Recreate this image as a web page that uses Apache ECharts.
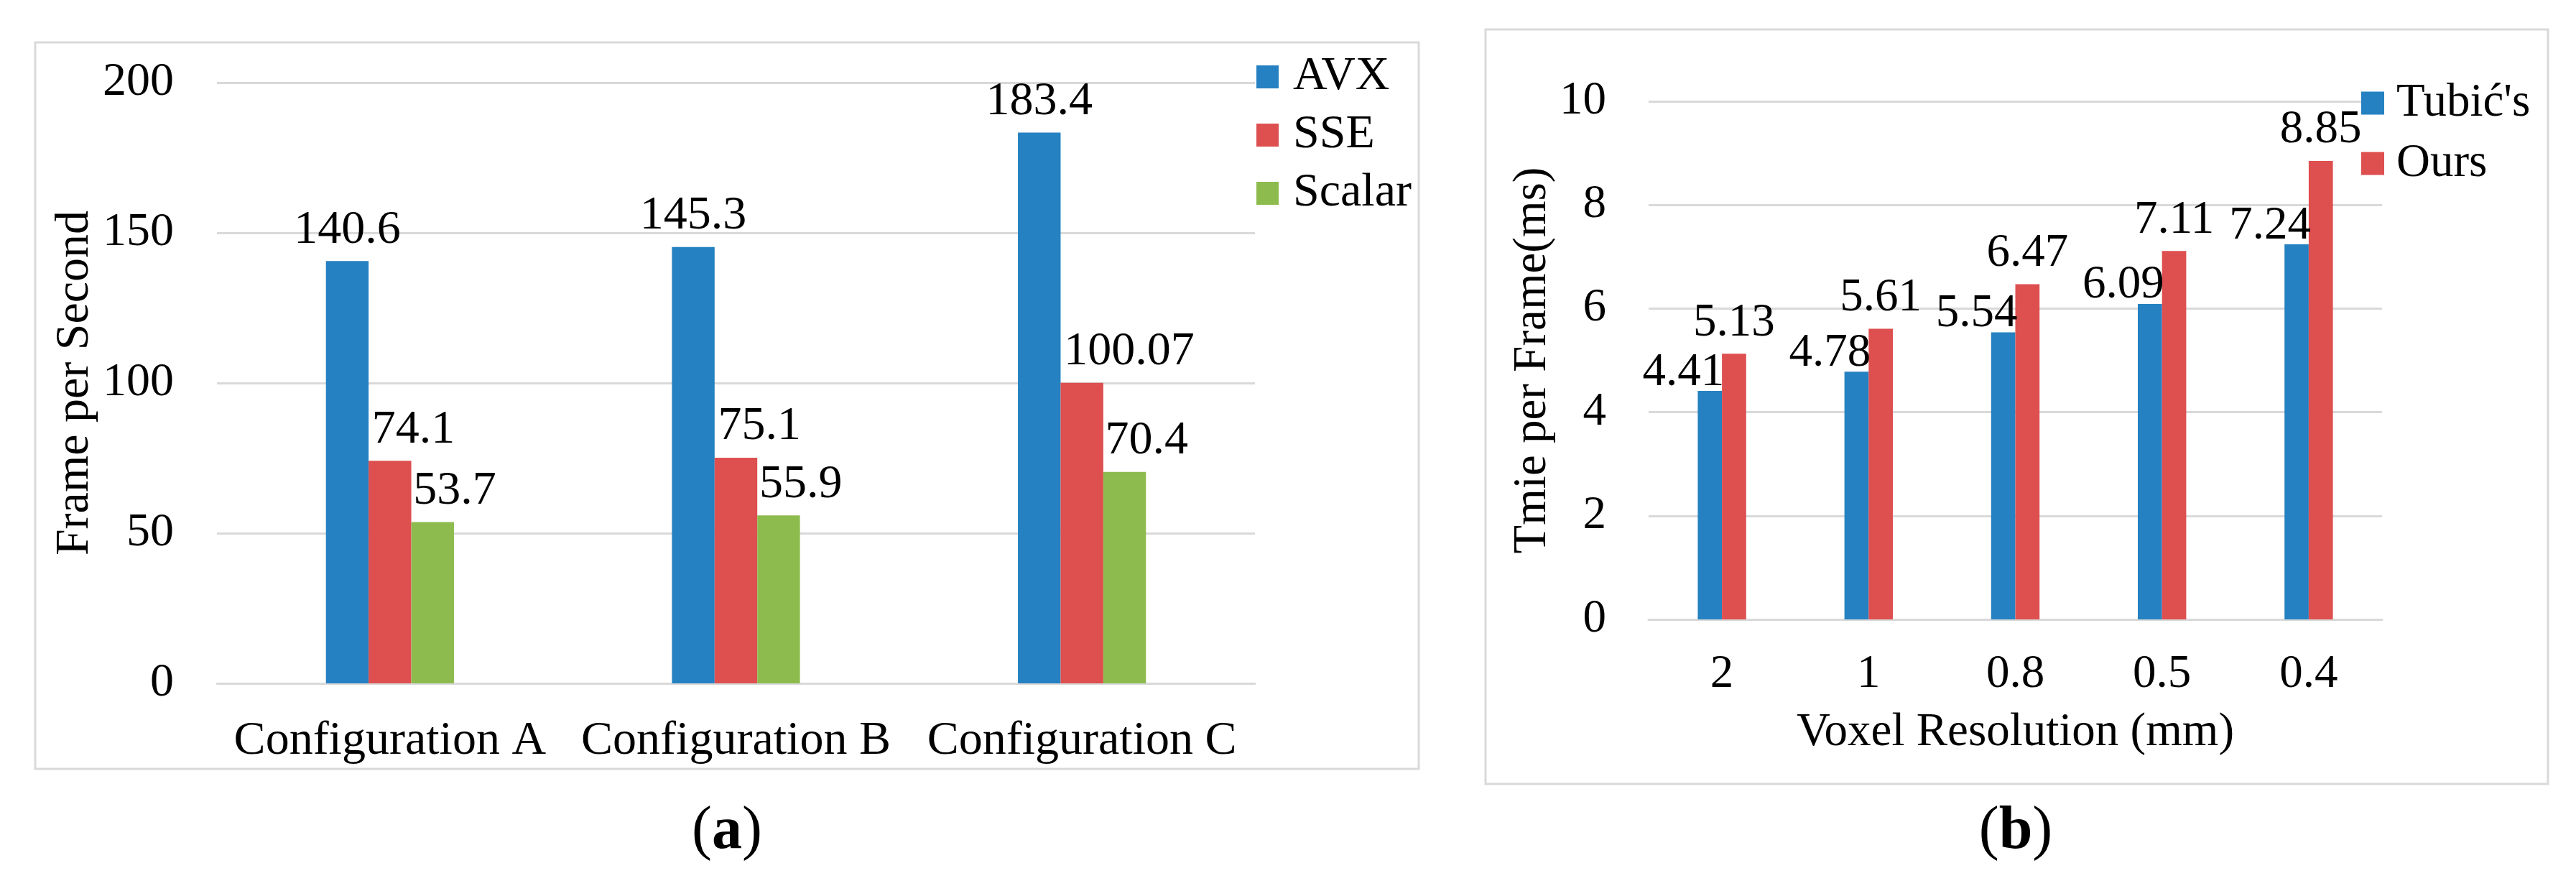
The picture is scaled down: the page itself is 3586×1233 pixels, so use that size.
<!DOCTYPE html>
<html>
<head>
<meta charset="utf-8">
<script src="https://cdn.jsdelivr.net/npm/echarts@6/dist/echarts.min.js"></script>
<style>
  html, body { margin: 0; padding: 0; background: #fff; }
  #chart { width: 3586px; height: 1233px; }
</style>
</head>
<body>
<div id="chart"></div>
<script>
// (a) frame rate per configuration
const configs = ['Configuration A', 'Configuration B', 'Configuration C'];
const avx = [140.6, 145.3, 183.4];
const sse = [74.1, 75.1, 100.07];
const scalar = [53.7, 55.9, 70.4];

// (b) time per frame vs voxel resolution
const resolutions = ['2', '1', '0.8', '0.5', '0.4'];
const tubic = [4.41, 4.78, 5.54, 6.09, 7.24];
const ours = [5.13, 5.61, 6.47, 7.11, 8.85];

const FONT = "'Liberation Serif', 'Times New Roman', serif";
const BLUE = '#2581c1';
const RED = '#de4f4f';
const GREEN = '#8dbb4e';
const GRID_LINE = '#d9d9d9';

const chart = echarts.init(document.getElementById('chart'));

function label(size, extra) {
  return Object.assign({
    show: true,
    position: 'top',
    distance: 10,
    color: '#000',
    fontFamily: FONT,
    fontSize: size,
    formatter: '{c}'
  }, extra || {});
}

const option = {
  backgroundColor: '#fff',
  animation: false,
  textStyle: { fontFamily: FONT, color: '#000' },
  graphic: [
    { type: 'rect', shape: { x: 49, y: 59, width: 1926, height: 1011 },
      style: { fill: 'none', stroke: GRID_LINE, lineWidth: 3 } },
    { type: 'rect', shape: { x: 2068, y: 41, width: 1479, height: 1050 },
      style: { fill: 'none', stroke: GRID_LINE, lineWidth: 3 } },
    { type: 'text', x: 1012, y: 1158,
      style: { text: '{p|(}{b|a}{p|)}', align: 'center', verticalAlign: 'middle',
        rich: { p: { fontFamily: FONT, fontSize: 84, color: '#000' },
                b: { fontFamily: FONT, fontSize: 84, fontWeight: 'bold', color: '#000' } } } },
    { type: 'text', x: 2806, y: 1158,
      style: { text: '{p|(}{b|b}{p|)}', align: 'center', verticalAlign: 'middle',
        rich: { p: { fontFamily: FONT, fontSize: 84, color: '#000' },
                b: { fontFamily: FONT, fontSize: 84, fontWeight: 'bold', color: '#000' } } } }
  ],
  legend: [
    {
      data: ['AVX', 'SSE', 'Scalar'],
      orient: 'vertical',
      left: 1749, top: 74,
      padding: 0,
      itemWidth: 31, itemHeight: 32, itemGap: 15,
      icon: 'rect',
      textStyle: { fontFamily: FONT, fontSize: 66, color: '#000', padding: [0, 0, 0, 15] }
    },
    {
      data: ["Tubić's", 'Ours'],
      orient: 'vertical',
      left: 3287, top: 111,
      padding: 0,
      backgroundColor: '#fff',
      itemWidth: 32, itemHeight: 32, itemGap: 19,
      icon: 'rect',
      textStyle: { fontFamily: FONT, fontSize: 65, color: '#000', padding: [0, 0, 0, 12] }
    }
  ],
  grid: [
    { left: 302, top: 115, width: 1445, height: 836 },
    { left: 2295, top: 141, width: 1021, height: 721 }
  ],
  xAxis: [
    {
      gridIndex: 0, type: 'category', data: configs,
      axisLine: { lineStyle: { color: GRID_LINE, width: 3 } },
      axisTick: { show: false },
      axisLabel: { interval: 0, color: '#000', fontFamily: FONT, fontSize: 66, margin: 48 }
    },
    {
      gridIndex: 1, type: 'category', data: resolutions,
      name: 'Voxel Resolution (mm)', nameLocation: 'middle', nameGap: 125,
      nameTextStyle: { color: '#000', fontFamily: FONT, fontSize: 65 },
      axisLine: { lineStyle: { color: GRID_LINE, width: 3 } },
      axisTick: { show: false },
      axisLabel: { interval: 0, color: '#000', fontFamily: FONT, fontSize: 65, margin: 44 }
    }
  ],
  yAxis: [
    {
      gridIndex: 0, type: 'value', min: 0, max: 200, interval: 50,
      name: 'Frame per Second', nameLocation: 'middle', nameGap: 164,
      nameTextStyle: { color: '#000', fontFamily: FONT, fontSize: 66 },
      axisLine: { show: false }, axisTick: { show: false },
      axisLabel: { color: '#000', fontFamily: FONT, fontSize: 66, margin: 60 },
      splitLine: { lineStyle: { color: GRID_LINE, width: 3 } }
    },
    {
      gridIndex: 1, type: 'value', min: 0, max: 10, interval: 2,
      name: 'Tmie per Frame(ms)', nameLocation: 'middle', nameGap: 129,
      nameTextStyle: { color: '#000', fontFamily: FONT, fontSize: 65 },
      axisLine: { show: false }, axisTick: { show: false },
      axisLabel: { color: '#000', fontFamily: FONT, fontSize: 65, margin: 59 },
      splitLine: { lineStyle: { color: GRID_LINE, width: 3 } }
    }
  ],
  series: [
    { name: 'AVX', type: 'bar', xAxisIndex: 0, yAxisIndex: 0, data: avx,
      itemStyle: { color: BLUE }, barGap: '0%', barCategoryGap: '63%',
      label: label(66) },
    { name: 'SSE', type: 'bar', xAxisIndex: 0, yAxisIndex: 0, data: sse,
      itemStyle: { color: RED }, barGap: '0%', barCategoryGap: '63%',
      label: label(66, { align: 'left', offset: [-25, 0] }) },
    { name: 'Scalar', type: 'bar', xAxisIndex: 0, yAxisIndex: 0, data: scalar,
      itemStyle: { color: GREEN }, barGap: '0%', barCategoryGap: '63%',
      label: label(66, { align: 'left', offset: [-27, 0] }) },
    { name: "Tubić's", type: 'bar', xAxisIndex: 1, yAxisIndex: 1, data: tubic,
      itemStyle: { color: BLUE }, barGap: '0%', barCategoryGap: '67%',
      label: label(65, { offset: [-37, 17] }) },
    { name: 'Ours', type: 'bar', xAxisIndex: 1, yAxisIndex: 1, data: ours,
      itemStyle: { color: RED }, barGap: '0%', barCategoryGap: '67%',
      label: label(65) }
  ]
};

chart.setOption(option);
</script>
</body>
</html>
